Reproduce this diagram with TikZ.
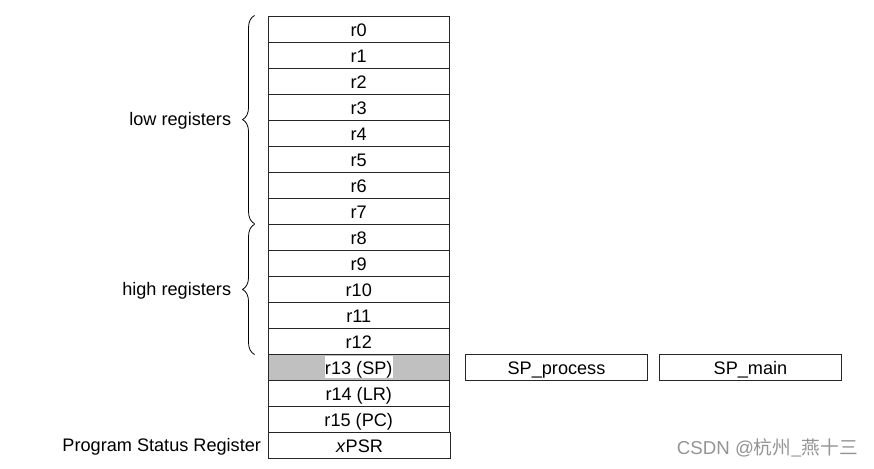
\documentclass[tikz,border=0pt]{standalone}
\usepackage{fontspec}
\setmainfont{Liberation Sans}
\newfontfamily\cjkfont{Noto Sans CJK SC}
\usetikzlibrary{decorations.pathreplacing}

\definecolor{regshade}{RGB}{192,192,192}
\newcommand\regfont{\fontsize{13.6}{16}\selectfont}

\tikzset{
  reg/.style={draw=black!85, line width=0.75pt, minimum width=136.1pt,
    minimum height=19.5pt, inner sep=0pt, text height=11pt, text depth=0pt,
    font=\regfont},
  grp/.style={decorate, decoration={brace, amplitude=9pt}, line width=0.6pt},
  lbl/.style={anchor=east, inner sep=0pt, font=\regfont},
}

\begin{document}
\begin{tikzpicture}[x=0.75pt,y=-0.75pt]
\useasboundingbox (0,0) rectangle (874,468);

% register bank
\foreach \i in {0,...,12}
  \node[reg] (r\i) at (358.75,29+26*\i) {r\i};

\node[reg, fill=regshade] (r13) at (358.75,367) {};
\node[fill=white, inner sep=0.3pt, text height=13.5pt, text depth=2.8pt, anchor=base,
  font=\regfont] (r13txt) at ([yshift=-5.5pt]r13.center) {r13 (SP)};
\node[reg] (r14) at (358.75,393) {r14 (LR)};
\node[reg] (r15) at (358.75,419) {r15 (PC)};

\node[reg] (xpsr) at (359.5,445) {\textit{x}PSR};

% banked stack pointers
\node[reg] (spproc) at (556.5,367) {SP\_process};
\node[reg] (spmain) at (750.5,367) {SP\_main};

% groups
\draw[grp] ([xshift=-9.75pt,yshift=0.6pt]r7.south west) -- ([xshift=-9.75pt]r0.north west)
  node[midway, lbl, xshift=-17.25pt, yshift=-1pt] (lowlbl) {low registers};
\draw[grp] ([xshift=-9.75pt]r12.south west) -- ([xshift=-9.75pt,yshift=-0.6pt]r8.north west)
  node[midway, lbl, xshift=-17.25pt, yshift=-1pt] (highlbl) {high registers};

\node[lbl] (psrlbl) at ([xshift=-5.25pt,yshift=-1.2pt]xpsr.west) {Program Status Register};

\node[lbl, text=black!42, font=\fontsize{14}{16}\selectfont] (wm) at (858,448)
  {CSDN @\cjkfont 杭州\_燕十三};

\end{tikzpicture}
\end{document}
